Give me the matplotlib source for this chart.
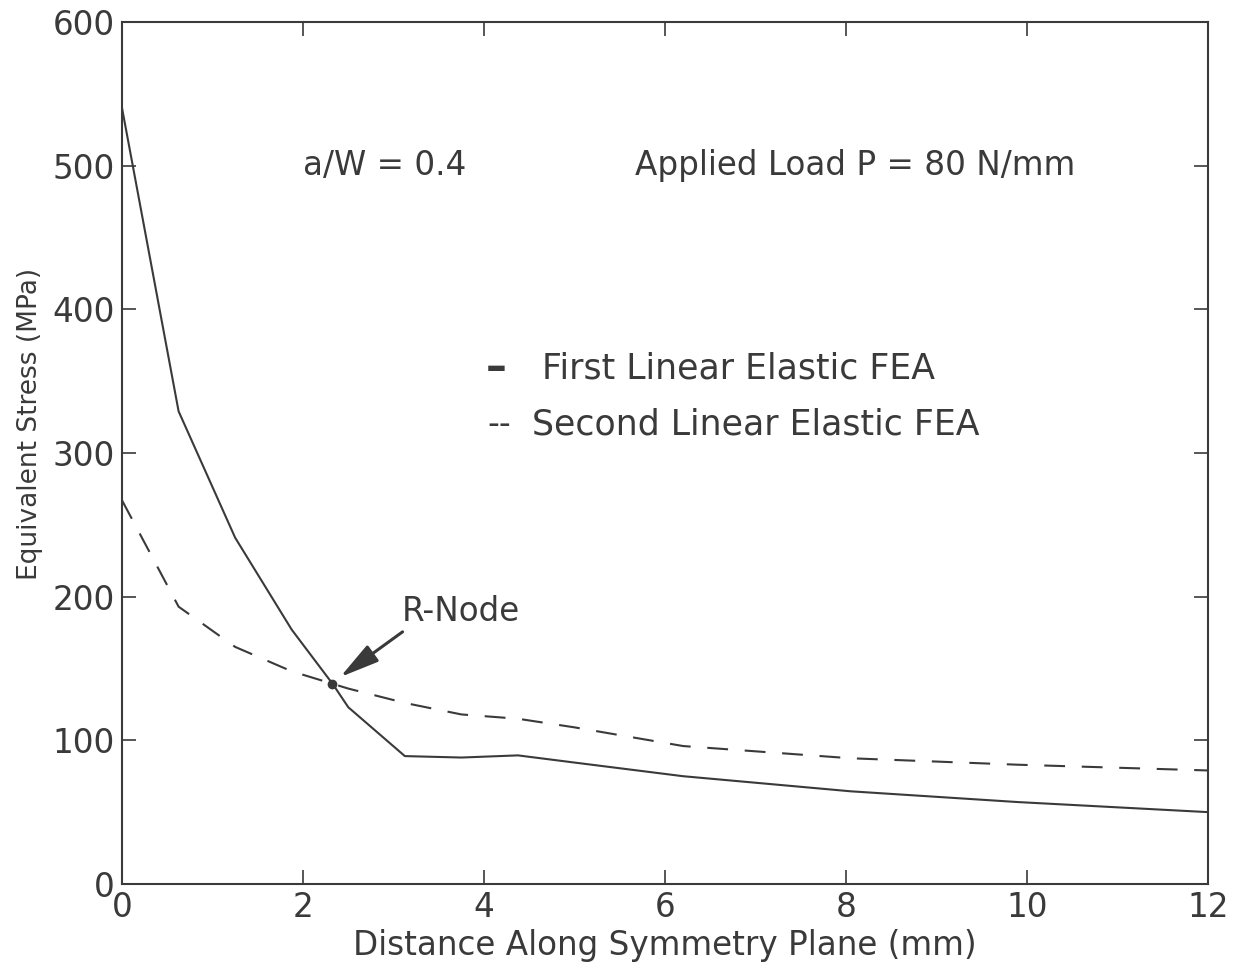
import matplotlib
matplotlib.use('Agg')
import matplotlib.pyplot as plt
import numpy as np

# distance along symmetry plane (mm)
x_first = [0.0, 0.625, 1.25, 1.875, 2.33, 2.5, 3.125, 3.75, 4.375, 5.0, 6.2, 8.05, 9.9, 12.0]
stress_first = [540, 329, 241, 177, 139, 123, 89, 88, 89.5, 84.5, 75, 64.5, 57, 50]

x_second = [0.0, 0.625, 1.25, 1.875, 2.5, 3.125, 3.75, 4.375, 5.0, 6.2, 8.05, 9.9, 12.0]
stress_second = [267, 193, 165, 148, 136, 126, 118, 115, 109, 96, 87.5, 83, 79]

rnode_x, rnode_y = 2.32, 139

xticks = [0, 2, 4, 6, 8, 10, 12]
yticks = [0, 100, 200, 300, 400, 500, 600]

ink = '#3a3a3a'
fs = 23.5
plt.rcParams['font.family'] = ['DejaVu Sans']
plt.rcParams['font.size'] = fs

fig = plt.figure(figsize=(12.39, 9.76), dpi=100)
ax = fig.add_axes([0.0985, 0.0943, 0.8765, 0.8832])

ax.plot(x_first, stress_first, '-', color=ink, lw=1.5)
ax.plot(x_second, stress_second, '--', color=ink, lw=1.5, dashes=(10, 8))
ax.plot(rnode_x, rnode_y, 'o', color=ink, ms=6)

# R-node pointer
ax.annotate('', xy=(2.41, 144), xytext=(3.1, 175.5),
            arrowprops=dict(arrowstyle='-|>,head_length=0.6,head_width=0.15',
                            color=ink, lw=2.2, mutation_scale=40,
                            shrinkA=0, shrinkB=0))
ax.text(3.74, 189.5, 'R-Node', ha='center', va='center', color=ink)

ax.text(2.9, 500, 'a/W = 0.4', ha='center', va='center', color=ink)
ax.text(8.1, 500, 'Applied Load P = 80 N/mm', ha='center', va='center', color=ink)

# hand-drawn legend as in the original figure
ax.text(4.13, 359, '\u2013', ha='center', va='center', color=ink, fontweight='bold', fontsize=30)
ax.text(4.64, 359, 'First Linear Elastic FEA', ha='left', va='center', color=ink, fontsize=25)
ax.text(4.17, 320, '--', ha='center', va='center', color=ink)
ax.text(4.53, 320, 'Second Linear Elastic FEA', ha='left', va='center', color=ink, fontsize=25)

ax.set_xlim(0, 12)
ax.set_ylim(0, 600)
ax.set_xticks(xticks)
ax.set_yticks(yticks)
ax.tick_params(direction='in', length=10, width=1.2, top=True, right=True,
               colors=ink, labelcolor=ink, labelsize=fs, pad=5)
for s in ax.spines.values():
    s.set_color(ink)
    s.set_linewidth(1.5)

ax.set_xlabel('Distance Along Symmetry Plane (mm)', color=ink, fontsize=fs, labelpad=4)
ax.set_ylabel('Equivalent Stress (MPa)', color=ink, fontsize=19, labelpad=7)
ax.yaxis.label.set_y(0.534)

fig.savefig('out.png', dpi=100)
